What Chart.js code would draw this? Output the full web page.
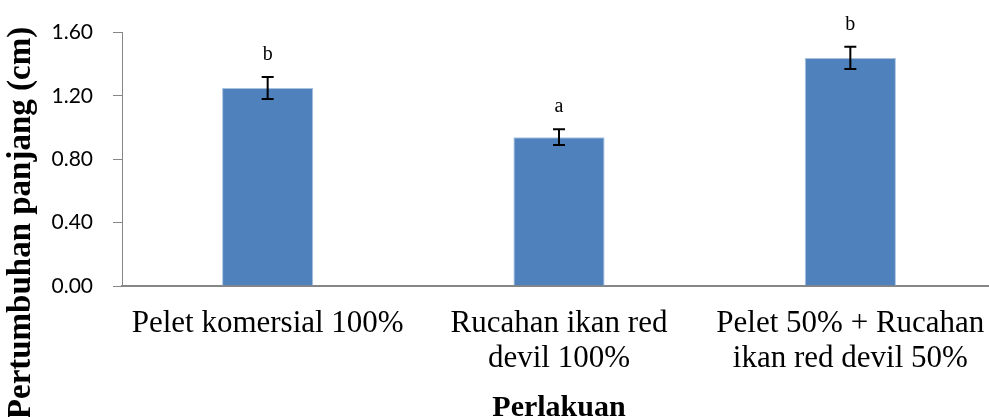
<!DOCTYPE html>
<html>
<head>
<meta charset="utf-8">
<script src="https://cdn.jsdelivr.net/npm/chart.js@4/dist/chart.umd.min.js"></script>
<style>
  html, body { margin: 0; padding: 0; background: #fff; overflow: hidden; }
  #wrap { position: relative; width: 996px; height: 417px; }
</style>
</head>
<body>
<div id="wrap"><canvas id="c"></canvas></div>
<script>
// Treatments, mean length growth (cm), standard errors and significance letters
const categories = [
  'Pelet komersial 100%',
  ['Rucahan ikan red', 'devil 100%'],
  ['Pelet 50% + Rucahan', 'ikan red devil 50%']
];
const growth = [1.25, 0.94, 1.44];
const errors = [0.07, 0.05, 0.07];
const sigLetters = ['b', 'a', 'b'];
const yTicks = [0, 0.4, 0.8, 1.2, 1.6];

const yTitle = 'Pertumbuhan panjang (cm)';
const xTitle = 'Perlakuan';

const axisGray = '#868686';
const serif = '"Liberation Serif", "Times New Roman", serif';

// error bars with caps plus the significance letter above each bar
const errorBarPlugin = {
  id: 'errorBars',
  afterDatasetsDraw(chart) {
    const { ctx, scales: { x, y } } = chart;
    ctx.save();
    ctx.strokeStyle = '#000';
    ctx.lineWidth = 2;
    ctx.fillStyle = '#000';
    ctx.font = '20px ' + serif;
    ctx.textAlign = 'center';
    ctx.textBaseline = 'alphabetic';
    growth.forEach((v, i) => {
      const cx = x.getPixelForValue(i);
      const yHi = y.getPixelForValue(v + errors[i]);
      const yLo = y.getPixelForValue(v - errors[i]);
      const cap = 6;
      ctx.beginPath();
      ctx.moveTo(cx, yHi); ctx.lineTo(cx, yLo);
      ctx.moveTo(cx - cap, yHi); ctx.lineTo(cx + cap, yHi);
      ctx.moveTo(cx - cap, yLo); ctx.lineTo(cx + cap, yLo);
      ctx.stroke();
      ctx.fillText(sigLetters[i], cx, yHi - 17);
    });
    ctx.restore();
  }
};

// rotated y-axis title, placed independently of the plot height
const yTitlePlugin = {
  id: 'yTitle',
  afterDraw(chart) {
    const { ctx } = chart;
    ctx.save();
    ctx.translate(21, 223);
    ctx.rotate(-Math.PI / 2);
    ctx.font = 'bold 33px ' + serif;
    ctx.fillStyle = '#000';
    ctx.textAlign = 'center';
    ctx.textBaseline = 'middle';
    ctx.fillText(yTitle, 0, 0);
    ctx.restore();
  }
};

new Chart(document.getElementById('c'), {
  type: 'bar',
  data: {
    labels: categories,
    datasets: [{
      data: growth,
      backgroundColor: '#4F81BD',
      borderColor: '#A9C1DF',
      borderWidth: 1,
      barPercentage: 0.313,
      categoryPercentage: 1
    }]
  },
  options: {
    responsive: true,
    maintainAspectRatio: false,
    animation: false,
    layout: { padding: { top: 32, left: 0, right: 0, bottom: 0 } },
    plugins: { legend: { display: false }, tooltip: { enabled: false } },
    scales: {
      x: {
        grid: { display: false, drawTicks: false },
        border: { display: true, color: axisGray, width: 2 },
        ticks: {
          color: '#000',
          padding: 20,
          maxRotation: 0,
          autoSkip: false,
          font: { family: serif, size: 31, lineHeight: 35 / 31 }
        },
        title: {
          display: true,
          text: xTitle,
          color: '#000',
          padding: 0,
          font: { family: serif, size: 30, weight: 'bold', lineHeight: 0.6 }
        },
        afterFit(scale) {
          scale.height = 131;
          // let the outer labels run to the edges without shrinking the plot
          scale.paddingLeft = 0;
          scale.paddingRight = 0;
        }
      },
      y: {
        min: 0,
        max: 1.6,
        afterBuildTicks(scale) { scale.ticks = yTicks.map(v => ({ value: v })); },
        grid: { drawOnChartArea: false, drawTicks: true, tickLength: 9, color: axisGray, lineWidth: 1 },
        border: { display: true, color: axisGray, width: 1 },
        ticks: {
          color: '#000',
          padding: 20,
          font: { family: 'Lato, "Open Sans", sans-serif', size: 21 },
          callback: v => Number(v).toFixed(2)
        },
        afterFit(scale) { scale.width = 122; }
      }
    }
  },
  plugins: [errorBarPlugin, yTitlePlugin]
});
</script>
</body>
</html>
